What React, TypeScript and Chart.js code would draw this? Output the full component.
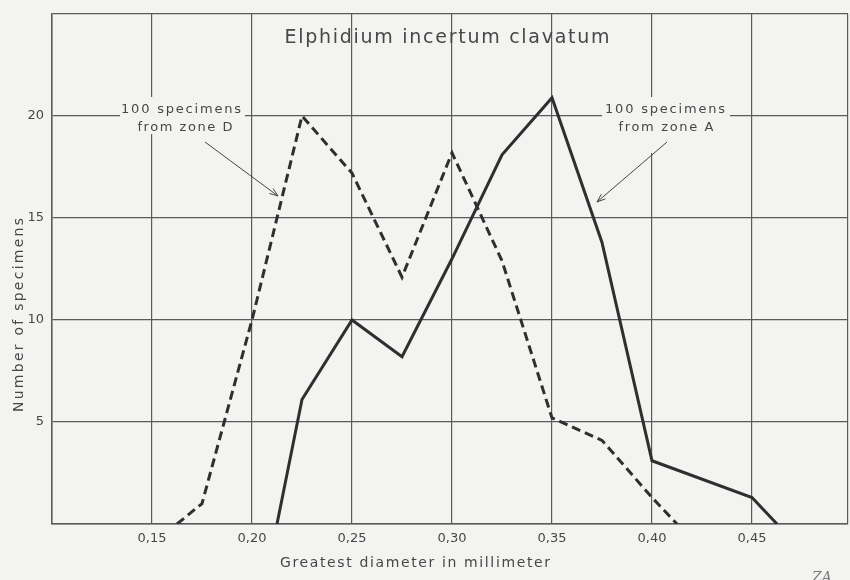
import React, { useEffect, useRef } from "react";
import { Chart, registerables } from "chart.js";

Chart.register(...registerables);

// Zone D (dashed) – diameter (mm) and number of specimens
const zoneDDiameter = [0.1625, 0.175, 0.2, 0.225, 0.25, 0.275, 0.3, 0.325, 0.35, 0.375, 0.4, 0.4125];
const zoneDCount = [0, 1, 10, 20, 17.2, 12.1, 18.2, 12.9, 5.2, 4.1, 1.3, 0];

// Zone A (solid)
const zoneADiameter = [0.2125, 0.225, 0.25, 0.275, 0.3, 0.325, 0.35, 0.375, 0.4, 0.45, 0.4625];
const zoneACount = [0, 6.1, 10, 8.2, 13, 18.1, 20.9, 13.8, 3.1, 1.3, 0];

const xTickValues = [0.15, 0.2, 0.25, 0.3, 0.35, 0.4, 0.45];
const yTickValues = [5, 10, 15, 20];
const xMin = 0.1;
const xMax = 0.498;

const titleText = "Elphidium incertum clavatum";
const xTitle = "Greatest diameter in millimeter";
const yTitle = "Number of specimens";
const noteD = ["100 specimens", "from zone D"];
const noteA = ["100 specimens", "from zone A"];

const BG = "#f3f3f1";
const INK = "#2f2f2f";
const GRID = "#5a5a5a";
const TEXT = "#474747";
const FONT = "'DejaVu Sans', sans-serif";

function drawSpaced(
  ctx: CanvasRenderingContext2D,
  text: string,
  cx: number,
  cy: number,
  width: number,
  size: number,
  style = ""
) {
  ctx.save();
  ctx.font = `${style} ${size}px ${FONT}`;
  (ctx as any).letterSpacing = "0px";
  const w = ctx.measureText(text).width;
  const sp = Math.max(0, (width - w) / Math.max(1, text.length - 1));
  (ctx as any).letterSpacing = `${sp}px`;
  ctx.textAlign = "left";
  ctx.textBaseline = "middle";
  ctx.fillStyle = TEXT;
  ctx.fillText(text, cx - width / 2, cy);
  ctx.restore();
}

function arrow(ctx: CanvasRenderingContext2D, x1: number, y1: number, x2: number, y2: number) {
  ctx.save();
  ctx.strokeStyle = "#444";
  ctx.lineWidth = 1;
  ctx.beginPath();
  ctx.moveTo(x1, y1);
  ctx.lineTo(x2, y2);
  const a = Math.atan2(y2 - y1, x2 - x1);
  const L = 9;
  ctx.moveTo(x2, y2);
  ctx.lineTo(x2 - L * Math.cos(a - 0.35), y2 - L * Math.sin(a - 0.35));
  ctx.moveTo(x2, y2);
  ctx.lineTo(x2 - L * Math.cos(a + 0.35), y2 - L * Math.sin(a + 0.35));
  ctx.stroke();
  ctx.restore();
}

const decorPlugin = {
  id: "decor",
  beforeDraw(chart: any) {
    const ctx = chart.ctx;
    ctx.save();
    ctx.fillStyle = BG;
    ctx.fillRect(0, 0, chart.width, chart.height);
    ctx.restore();
  },
  beforeDatasetsDraw(chart: any) {
    const ctx = chart.ctx;
    ctx.save();
    ctx.fillStyle = BG;
    ctx.fillRect(120, 97, 125, 37);
    ctx.fillRect(602, 97, 128, 38);
    ctx.fillRect(648, 97, 10, 56);
    ctx.restore();
  },
  afterDraw(chart: any) {
    const ctx = chart.ctx;
    drawSpaced(ctx, titleText, 447, 38, 325, 19);
    drawSpaced(ctx, noteD[0], 181, 110, 120, 13);
    drawSpaced(ctx, noteD[1], 185, 128, 95, 13);
    drawSpaced(ctx, noteA[0], 665, 110, 120, 13);
    drawSpaced(ctx, noteA[1], 666, 128, 95, 13);
    arrow(ctx, 205, 142, 278, 196);
    arrow(ctx, 667, 142, 597, 202);
    drawSpaced(ctx, xTitle, 415, 563, 270, 14);
    ctx.save();
    ctx.translate(19, 315);
    ctx.rotate(-Math.PI / 2);
    drawSpaced(ctx, yTitle, 0, 0, 194, 14);
    ctx.restore();
    ctx.save();
    ctx.font = `italic 14px 'DejaVu Serif', serif`;
    ctx.fillStyle = "#777";
    ctx.textAlign = "left";
    ctx.textBaseline = "alphabetic";
    ctx.fillText("ZA", 812, 582);
    ctx.restore();
  },
};

export default function App() {
  const ref = useRef<HTMLCanvasElement | null>(null);
  useEffect(() => {
    if (!ref.current) return;
    const chart = new Chart(ref.current, {
      type: "line",
      data: {
        datasets: [
          {
            label: "zone D",
            data: zoneDDiameter.map((x, i) => ({ x, y: zoneDCount[i] })),
            borderColor: INK,
            borderWidth: 3,
            borderDash: [9, 5],
            pointRadius: 0,
            tension: 0,
            fill: false,
          },
          {
            label: "zone A",
            data: zoneADiameter.map((x, i) => ({ x, y: zoneACount[i] })),
            borderColor: INK,
            borderWidth: 3,
            pointRadius: 0,
            tension: 0,
            fill: false,
          },
        ],
      },
      options: {
        animation: false,
        responsive: false,
        devicePixelRatio: 1,
        layout: { padding: { top: 14, right: 2, left: 0, bottom: 0 } },
        plugins: {
          legend: { display: false },
          tooltip: { enabled: false },
          title: { display: false },
        },
        scales: {
          x: {
            type: "linear",
            min: xMin,
            max: xMax,
            afterFit: (s: any) => {
              s.height = 56;
              s.paddingLeft = 0;
              s.paddingRight = 0;
              s.paddingTop = 0;
              s.paddingBottom = 0;
            },
            afterBuildTicks: (s: any) => {
              s.ticks = [xMin, ...xTickValues, xMax].map((v) => ({ value: v }));
            },
            ticks: {
              padding: 7,
              color: TEXT,
              font: { family: FONT, size: 13 },
              maxRotation: 0,
              autoSkip: false,
              callback: (v: any) =>
                xTickValues.some((t) => Math.abs(t - v) < 1e-6)
                  ? Number(v).toFixed(2).replace(".", ",")
                  : "",
            },
            grid: { color: GRID, lineWidth: 1.2, drawTicks: false },
            border: { display: true, color: GRID, width: 1.5 },
          },
          y: {
            type: "linear",
            min: 0,
            max: 25,
            afterFit: (s: any) => {
              s.width = 52;
              s.paddingLeft = 0;
              s.paddingRight = 0;
              s.paddingTop = 0;
              s.paddingBottom = 0;
            },
            afterBuildTicks: (s: any) => {
              s.ticks = [0, ...yTickValues, 25].map((v) => ({ value: v }));
            },
            ticks: {
              padding: 8,
              color: TEXT,
              font: { family: FONT, size: 13 },
              autoSkip: false,
              callback: (v: any) => (yTickValues.includes(Number(v)) ? String(v) : ""),
            },
            grid: { color: GRID, lineWidth: 1.2, drawTicks: false },
            border: { display: true, color: GRID, width: 1.5 },
          },
        },
      },
      plugins: [decorPlugin],
    });
    return () => chart.destroy();
  }, []);
  return (
    <div style={{ position: "absolute", left: 0, top: 0 }}>
      <canvas ref={ref} width={850} height={580} style={{ display: "block" }} />
    </div>
  );
}
